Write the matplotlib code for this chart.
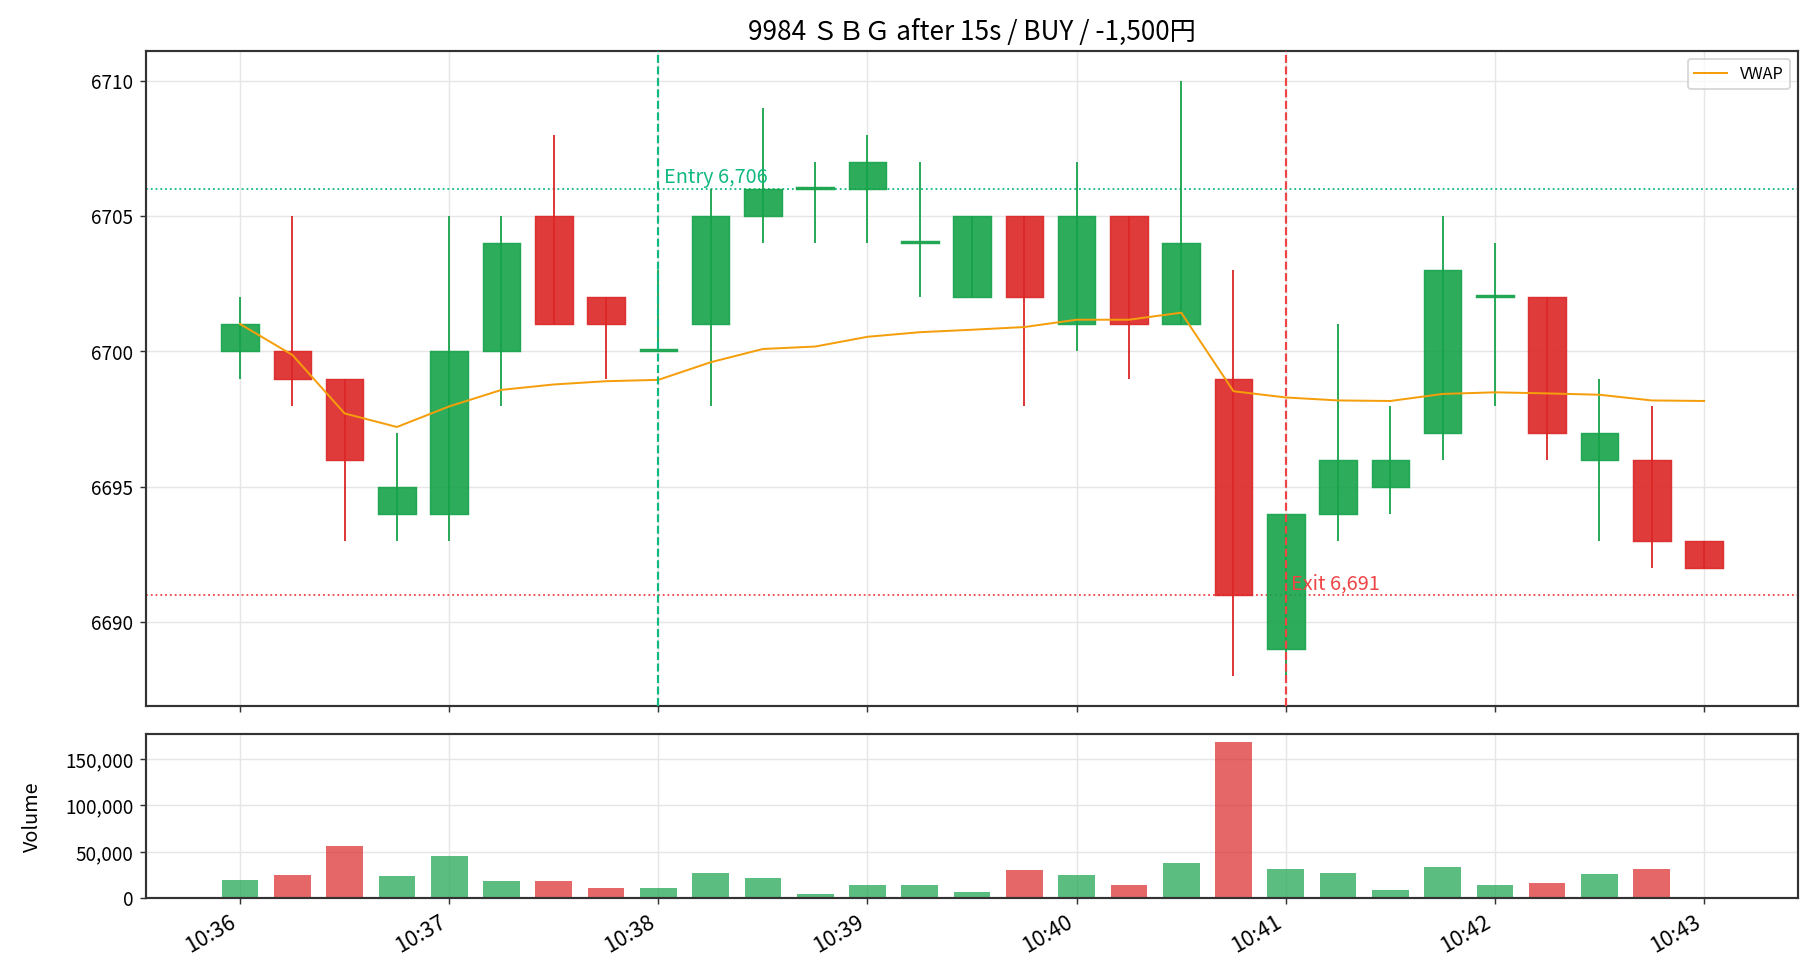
import numpy as np
import pandas as pd
import matplotlib
matplotlib.use('agg')
import matplotlib.pyplot as plt
import matplotlib.dates as mdates
from matplotlib.ticker import FuncFormatter

plt.rcParams['font.family'] = ['Noto Sans CJK JP', 'DejaVu Sans']

# 15s bars, 10:36:00 - 10:43:00
times = pd.date_range('2024-01-01 10:36:00', periods=29, freq='15s')
opens = [6700, 6700, 6699, 6694, 6694, 6700, 6705, 6702, 6700, 6701,
         6705, 6706, 6706, 6704, 6702, 6705, 6701, 6705, 6701, 6699,
         6689, 6694, 6695, 6697, 6702, 6702, 6696, 6696, 6693]
highs = [6702, 6705, 6699, 6697, 6705, 6705, 6708, 6702, 6703, 6706,
         6709, 6707, 6708, 6707, 6705, 6705, 6707, 6705, 6710, 6703,
         6694, 6701, 6698, 6705, 6704, 6702, 6699, 6698, 6693]
lows = [6699, 6698, 6693, 6693, 6693, 6698, 6701, 6699, 6700, 6698,
        6704, 6704, 6704, 6702, 6702, 6698, 6700, 6699, 6701, 6688,
        6688, 6693, 6694, 6696, 6698, 6696, 6693, 6692, 6692]
closes = [6701, 6699, 6696, 6695, 6700, 6704, 6701, 6701, 6700, 6705,
          6706, 6706, 6707, 6704, 6705, 6702, 6705, 6701, 6704, 6691,
          6694, 6696, 6696, 6703, 6702, 6697, 6697, 6693, 6692]
volumes = [19800, 25200, 56500, 24100, 45700, 18700, 18700, 11200, 11200, 27300,
           21900, 4700, 14400, 14400, 6800, 30600, 25200, 14400, 38100, 168700,
           31700, 27300, 9000, 33800, 14400, 16500, 26300, 31700, 400]
vwap = [6701.01, 6699.87, 6697.71, 6697.21, 6697.97, 6698.58, 6698.78, 6698.90, 6698.95, 6699.60,
        6700.09, 6700.18, 6700.54, 6700.71, 6700.80, 6700.90, 6701.17, 6701.17, 6701.43, 6698.53,
        6698.30, 6698.19, 6698.17, 6698.43, 6698.49, 6698.45, 6698.40, 6698.19, 6698.17]

entry_time = pd.Timestamp('2024-01-01 10:38:00')
entry_price = 6706
exit_time = pd.Timestamp('2024-01-01 10:41:00')
exit_price = 6691
title = '9984 ＳＢＧ after 15s / BUY / -1,500円'

GREEN = '#16a34a'
RED = '#dc2626'

fig = plt.figure(figsize=(14, 7.54), dpi=130)
gs = fig.add_gridspec(2, 1, height_ratios=[4, 1], hspace=0.068,
                      left=0.0802, right=0.988, top=0.948, bottom=0.0837)
ax = fig.add_subplot(gs[0])
axv = fig.add_subplot(gs[1], sharex=ax)

x = mdates.date2num(times)
step = 15 / 86400
o = np.array(opens); c = np.array(closes)
up = c >= o
cols = np.where(up, GREEN, RED)

# wicks
ax.vlines(x, lows, highs, colors=cols, linewidth=1.0, zorder=2)
# bodies
bottoms = np.minimum(o, c)
heights = np.maximum(np.abs(c - o), 0.08)
ax.bar(x, heights, bottom=bottoms, width=step * 0.72, color=cols,
       edgecolor=cols, linewidth=0.8, alpha=0.9, zorder=3)

ax.plot(x, vwap, color='#f59e0b', linewidth=1.1, label='VWAP', zorder=4)

ax.axvline(entry_time, color='#10b981', linestyle='--', linewidth=1.2, zorder=5)
ax.axhline(entry_price, color='#10b981', linestyle=':', linewidth=1.0, zorder=1)
ax.annotate(f'Entry {entry_price:,}', (mdates.date2num(entry_time), entry_price),
            xytext=(3, 0.5), textcoords='offset points', color='#10b981',
            fontsize=11, va='bottom', ha='left')
ax.axvline(exit_time, color='#ef4444', linestyle='--', linewidth=1.2, zorder=5)
ax.axhline(exit_price, color='#ef4444', linestyle=':', linewidth=1.0, zorder=1)
ax.annotate(f'Exit {exit_price:,}', (mdates.date2num(exit_time), exit_price),
            xytext=(3, 0.5), textcoords='offset points', color='#ef4444',
            fontsize=11, va='bottom', ha='left')

ax.set_ylim(6686.9, 6711.1)
ax.set_title(title, fontsize=14.5)
ax.legend(loc='upper right', fontsize=9)

axv.bar(x, volumes, width=step * 0.7, color=cols, alpha=0.7)
axv.set_ylim(0, max(volumes) * 1.05)
axv.set_ylabel('Volume', fontsize=11, labelpad=12)
axv.yaxis.set_major_formatter(FuncFormatter(lambda v, p: f'{int(v):,}'))
axv.set_yticks([0, 50000, 100000, 150000])

ax.set_xlim(x[0] - 27 / 86400, x[-1] + 27 / 86400)
axv.xaxis.set_major_locator(mdates.MinuteLocator())
axv.xaxis.set_major_formatter(mdates.DateFormatter('%H:%M'))
plt.setp(ax.get_xticklabels(), visible=False)

for a in (ax, axv):
    a.grid(True, color='#e6e6e6', linewidth=0.8)
    a.set_axisbelow(True)
    for s in a.spines.values():
        s.set_color('#333333')
        s.set_linewidth(1.2)
    a.tick_params(labelsize=10.5, color='#333333')
axv.tick_params(axis='x', labelsize=12)
plt.setp(axv.get_xticklabels(), rotation=30, ha='right')

fig.savefig('out.png', dpi=130)
